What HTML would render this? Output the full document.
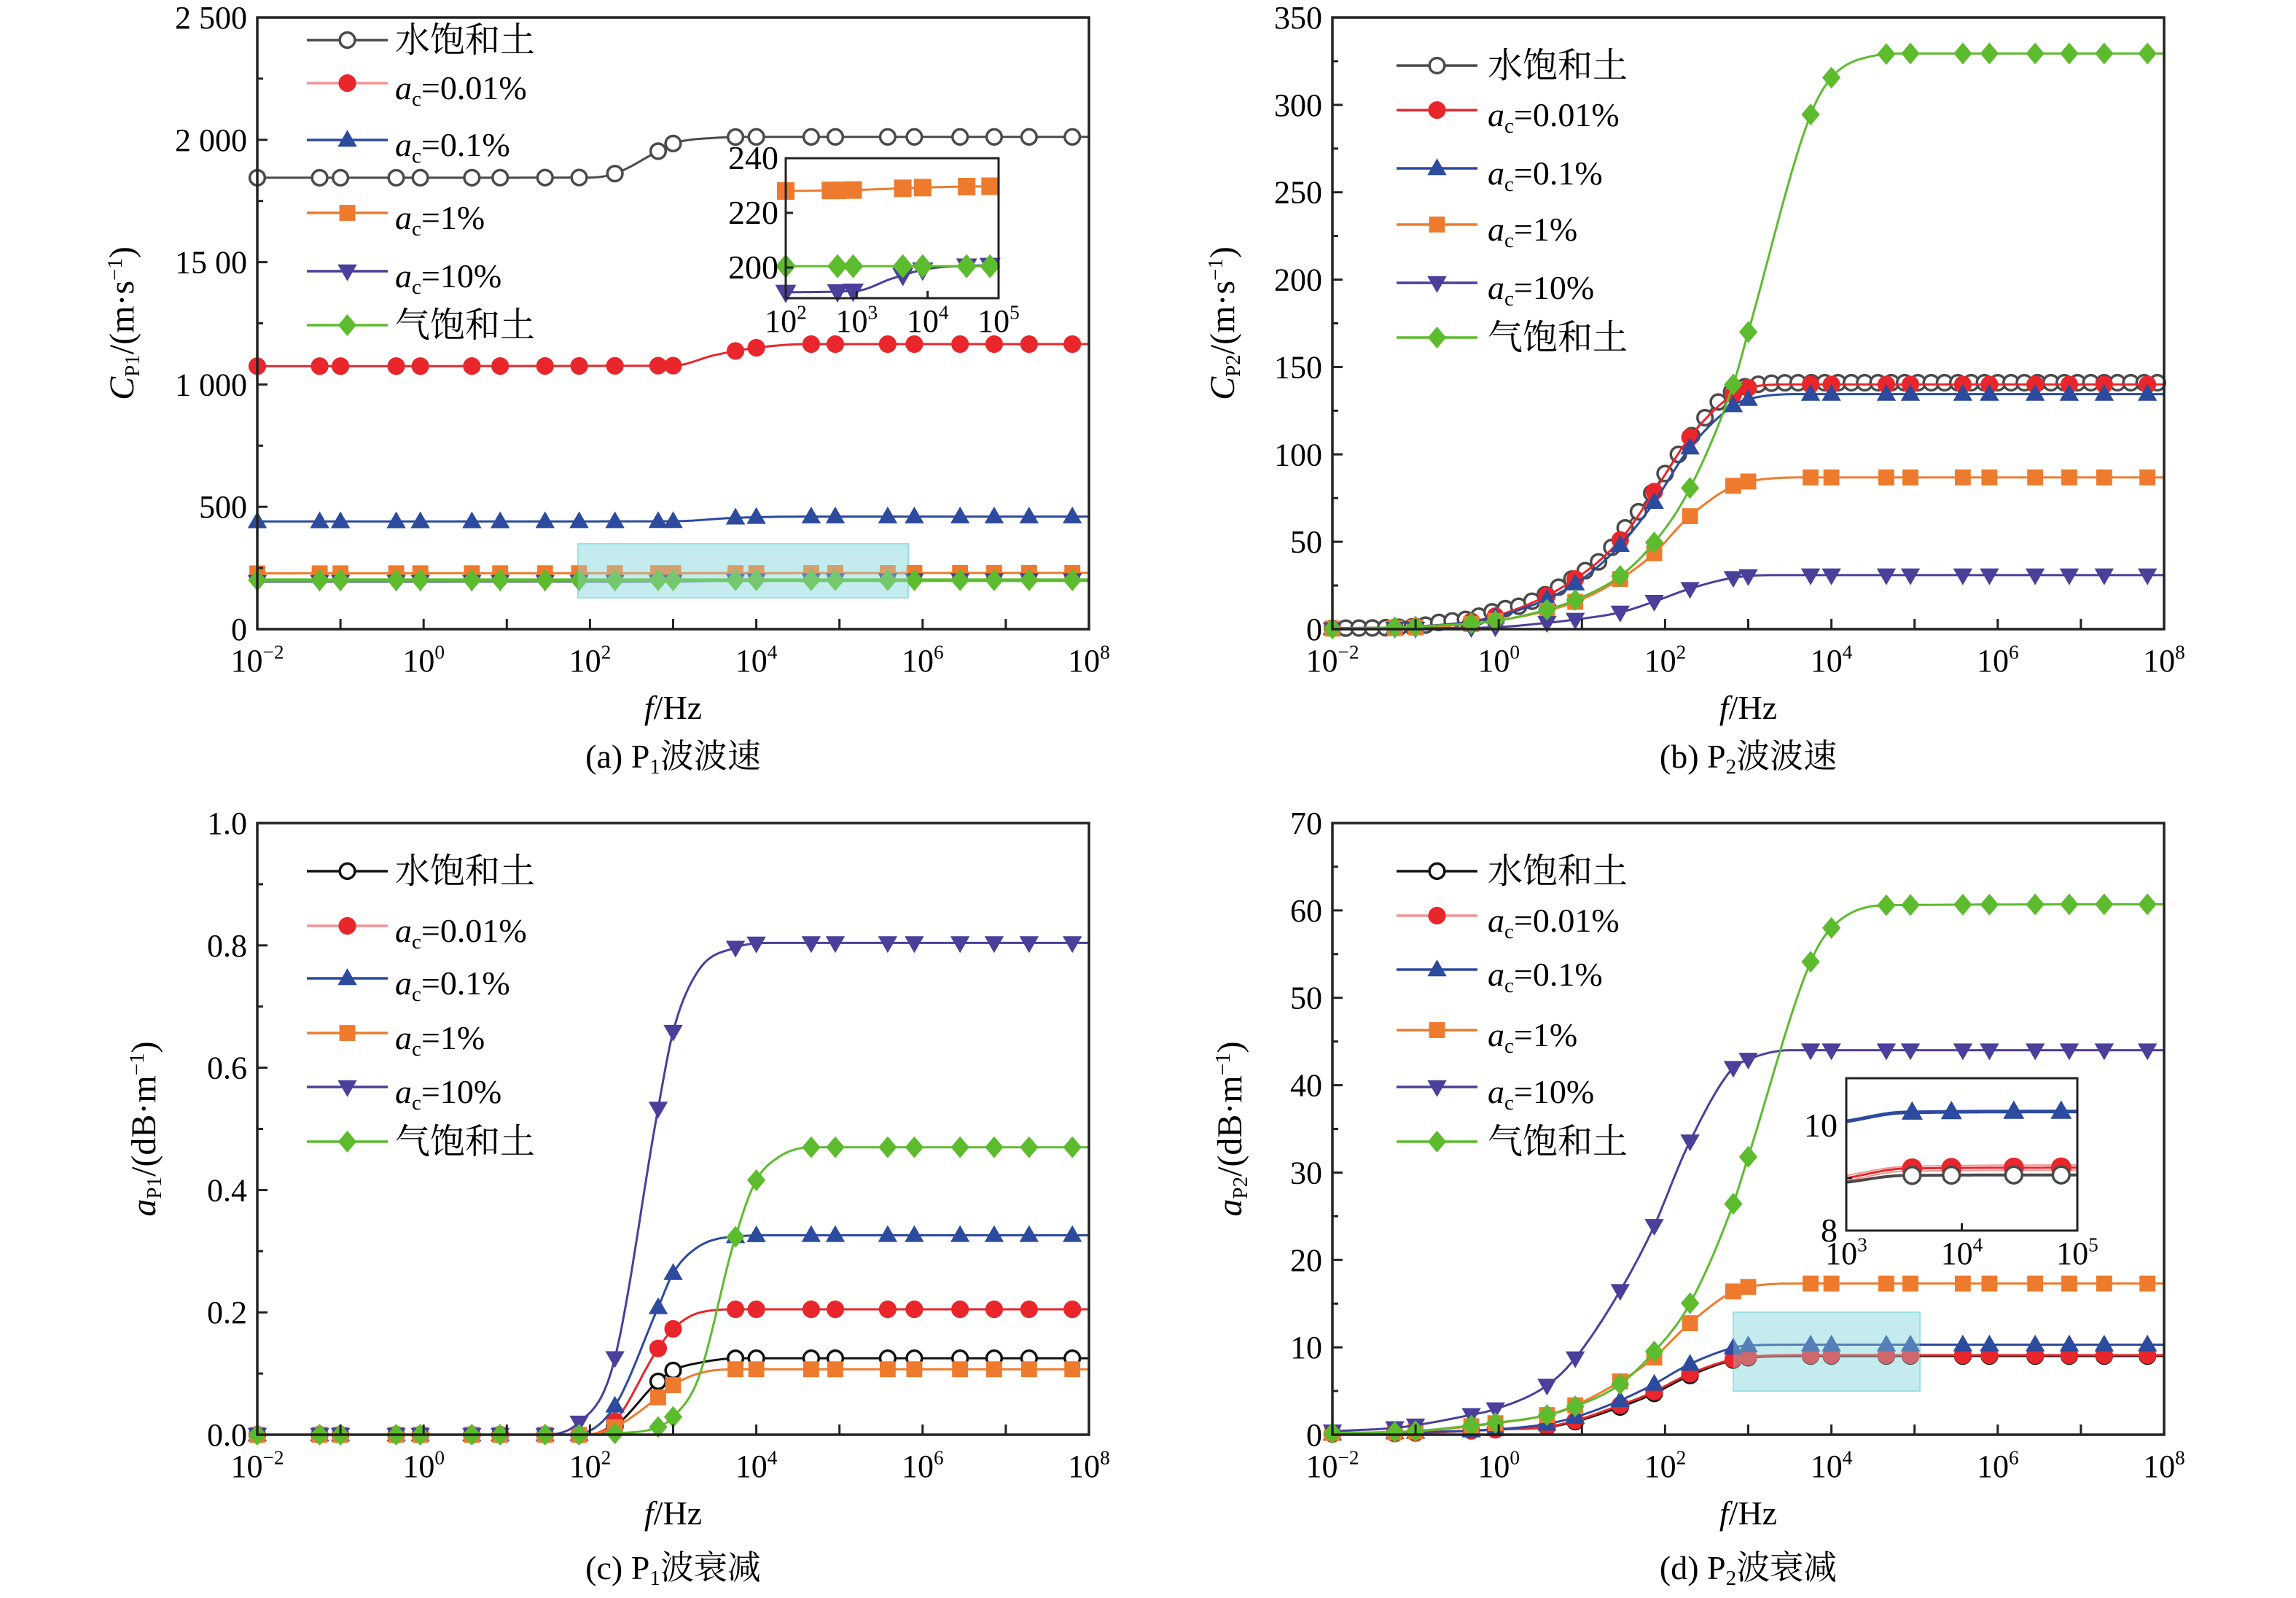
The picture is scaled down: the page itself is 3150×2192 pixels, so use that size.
<!DOCTYPE html>
<html><head><meta charset="utf-8">
<style>
html,body{margin:0;padding:0;background:#fff;}
svg{display:block;font-family:"Liberation Serif","Noto Serif CJK SC",serif;}
</style></head>
<body>
<svg id="s" xmlns="http://www.w3.org/2000/svg" width="3150" height="2192" viewBox="0 0 3150 2192"></svg>
<script>
const S=document.getElementById('s');
let out='';
const MS=1.15;
const X=[-2,-1.25,-1,-0.33,-0.04,0.58,0.92,1.46,1.87,2.3,2.82,3.0,3.75,4.0,4.66,4.95,5.58,5.9,6.45,6.86,7.28,7.8];
const C={w1:'#4a4a4a',w2:'#111111',r:'#e8262b',rl:'#f39494',b:'#2c4a9e',o:'#ee7b2d',p:'#4a3f9a',g:'#5dbb2e'};
function mono(pts){
  const n=pts.length,xs=pts.map(p=>p[0]),ys=pts.map(p=>p[1]);
  const d=[],m=[];
  for(let i=0;i<n-1;i++)d.push((ys[i+1]-ys[i])/(xs[i+1]-xs[i]));
  m[0]=d[0];m[n-1]=d[n-2];
  for(let i=1;i<n-1;i++){m[i]=(d[i-1]*d[i]<=0)?0:(d[i-1]+d[i])/2;}
  for(let i=0;i<n-1;i++){ if(d[i]==0){m[i]=0;m[i+1]=0;continue;}
    const a=m[i]/d[i],b=m[i+1]/d[i],h=a*a+b*b; if(h>9){const t=3/Math.sqrt(h);m[i]=t*a*d[i];m[i+1]=t*b*d[i];}}
  return function(x){
    if(x<=xs[0])return ys[0]; if(x>=xs[n-1])return ys[n-1];
    let i=0;while(x>xs[i+1])i++;
    const h=xs[i+1]-xs[i],t=(x-xs[i])/h,t2=t*t,t3=t2*t;
    return (2*t3-3*t2+1)*ys[i]+(t3-2*t2+t)*h*m[i]+(-2*t3+3*t2)*ys[i+1]+(t3-t2)*h*m[i+1];
  };
}
function marker(type,x,y,col,s){
  s=(s||1)*MS;
  if(type=='oc')return `<circle cx="${x}" cy="${y}" r="${9*s}" fill="#fff" stroke="${col}" stroke-width="3.5"/>`;
  if(type=='fc')return `<circle cx="${x}" cy="${y}" r="${10.5*s}" fill="${col}"/>`;
  if(type=='tu')return `<polygon points="${x},${y-12*s} ${x-11.5*s},${y+8*s} ${x+11.5*s},${y+8*s}" fill="${col}"/>`;
  if(type=='td')return `<polygon points="${x},${y+12*s} ${x-11.5*s},${y-8*s} ${x+11.5*s},${y-8*s}" fill="${col}"/>`;
  if(type=='sq')return `<rect x="${x-9.5*s}" y="${y-9.5*s}" width="${19*s}" height="${19*s}" fill="${col}"/>`;
  if(type=='di')return `<polygon points="${x},${y-13*s} ${x+11*s},${y} ${x},${y+13*s} ${x-11*s},${y}" fill="${col}"/>`;
}
function sup10(x,y,e,fs){return `<text x="${x}" y="${y}" font-size="${fs}" text-anchor="middle">10<tspan font-size="${fs*0.62}" dy="${-fs*0.4}">${e}</tspan></text>`;}
function acLabel(x,y,v){return `<text x="${x}" y="${y}" font-size="46"><tspan font-style="italic">a</tspan><tspan font-size="29" dy="9">c</tspan><tspan dy="-9">=${v}</tspan></text>`;}
function panel(P){
  const L=P.L,T=P.T,W=1141,H=839,B=T+H,R=L+W;
  const fx=x=>L+(x+2)/10*W, fy=v=>B-(v-P.y0)/(P.y1-P.y0)*H;
  let s='';
  if(P.rect){const r=P.rect;s+=`<rect x="${r[0]}" y="${r[1]}" width="${r[2]-r[0]}" height="${r[3]-r[1]}" fill="rgba(140,215,220,0.35)" stroke="#9adfe3" stroke-width="2"/>`;}
  P.series.forEach(se=>{
    const f=mono(se.pts);let d='';
    for(let x=-2;x<=8.0001;x+=0.02){d+=(d?'L':'M')+fx(x).toFixed(1)+','+fy(f(x)).toFixed(1);}
    s+=`<path d="${d}" fill="none" stroke="${se.col}" stroke-width="${se.lw||3}"/>`;
    (se.mx||X).forEach(x=>{s+=marker(se.m,fx(x),fy(f(x)),se.col);});
  });
  if(P.rect){const r=P.rect;s+=`<rect x="${r[0]}" y="${r[1]}" width="${r[2]-r[0]}" height="${r[3]-r[1]}" fill="rgba(160,225,228,0.35)" stroke="none"/>`;}
  s+=`<rect x="${L}" y="${T}" width="${W}" height="${H}" fill="none" stroke="#222" stroke-width="3.5"/>`;
  for(let e=-2;e<=8;e++){const x=fx(e);s+=`<line x1="${x}" y1="${B}" x2="${x}" y2="${B-14}" stroke="#222" stroke-width="3"/>`;
    if(e%2==0)s+=sup10(x,B+58,e<0?'−'+(-e):e,44);}
  for(let v=P.y0;v<=P.y1+1e-9;v+=P.minor){const y=fy(v);const maj=Math.abs(Math.round((v-P.y0)/P.major)*P.major-(v-P.y0))<1e-6;
    s+=`<line x1="${L}" y1="${y}" x2="${L+(maj?14:8)}" y2="${y}" stroke="#222" stroke-width="3"/>`;}
  P.ylabels.forEach((t,i)=>{const v=P.y0+i*P.major;s+=`<text x="${L-14}" y="${fy(v)+15}" font-size="44" text-anchor="end">${t}</text>`;});
  const lg=P.leg;
  const names=['水饱和土','0.01%','0.1%','1%','10%','气饱和土'];
  P.legOrder.forEach((se,i)=>{
    const y=T+lg.rows[i];
    s+=`<line x1="${L+lg.x0}" y1="${y}" x2="${L+lg.x1}" y2="${y}" stroke="${se.legCol||se.col}" stroke-width="3.5"/>`;
    s+=marker(se.m,L+(lg.x0+lg.x1)/2,y,se.col);
    if(i==0||i==5)s+=`<text x="${L+lg.tx}" y="${y+16}" font-size="48">${names[i]}</text>`;
    else s+=acLabel(L+lg.tx,y+22,names[i]);
  });
  const mx=(L+R)/2;
  s+=`<text x="${mx}" y="${B+123}" font-size="46" text-anchor="middle"><tspan font-style="italic">f</tspan>/Hz</text>`;
  s+=`<text x="${mx}" y="${B+P.capDy}" font-size="46" text-anchor="middle">${P.cap}</text>`;
  s+=`<text transform="translate(${L-P.ytx},${(T+B)/2}) rotate(-90)" font-size="48" text-anchor="middle">${P.ytitle}</text>`;
  if(P.inset)s+=P.inset(P);
  return s;
}
const legA={rows:[31,90,168,268,348,422],x0:68,x1:179,tx:189};
const legB={rows:[66,127,207,284,364,439],x0:88,x1:199,tx:213};
const legC={rows:[66,141,213,288,362,437],x0:68,x1:179,tx:189};
const legD={rows:[66,127,201,284,362,437],x0:88,x1:199,tx:213};

const sa=[
 {col:C.w1,m:'oc',pts:[[-2,1845],[2.0,1846],[2.3,1862],[2.8,1950],[3.0,1985],[3.5,2008],[4,2012],[8,2012]]},
 {col:C.r,legCol:C.rl,m:'fc',pts:[[-2,1075],[3.0,1077],[3.5,1120],[4.0,1150],[4.6,1165],[8,1165]]},
 {col:C.b,m:'tu',pts:[[-2,440],[3,441],[3.75,455],[4.6,460],[8,460]]},
 {col:C.o,m:'sq',pts:[[-2,228],[8,230]]},
 {col:C.p,m:'td',pts:[[-2,194],[3,195],[4,200],[8,201]]},
 {col:C.g,m:'di',lw:5,pts:[[-2,200],[8,200]]}
];
function insetA(){
  const L=1078,R=1370,T=217,B=409;const fx=x=>L+(x-2)/3*(R-L),fy=v=>B-(v-188.8)/(240-188.8)*(B-T);
  let s=`<rect x="${L}" y="${T}" width="${R-L}" height="${B-T}" fill="#fff" stroke="none"/>`;
  const ser=[{col:C.o,m:'sq',pts:[[2,228],[3,228.4],[4,229.3],[5,229.8]]},
    {col:C.p,m:'td',pts:[[2,191],[3,191.5],[3.5,196],[4,199.5],[5,201]]},
    {col:C.g,m:'di',pts:[[2,200.5],[5,200.5]]}];
  const mxs=[2.0,2.73,2.95,3.65,3.93,4.55,4.88];
  ser.forEach(se=>{const f=mono(se.pts);let d='';for(let x=2;x<=5.0001;x+=0.02)d+=(d?'L':'M')+fx(x).toFixed(1)+','+fy(f(x)).toFixed(1);
    s+=`<path d="${d}" fill="none" stroke="${se.col}" stroke-width="3"/>`;
    (se.m=='sq'?[2.0,2.63,2.73,2.95,3.65,3.93,4.55,4.88]:mxs).forEach(x=>s+=marker(se.m,fx(x),fy(f(x)),se.col,1.1));});
  s+=`<rect x="${L}" y="${T}" width="${R-L}" height="${B-T}" fill="none" stroke="#222" stroke-width="3"/>`;
  [240,220,200].forEach(v=>{s+=`<line x1="${L}" y1="${fy(v)}" x2="${L+10}" y2="${fy(v)}" stroke="#222" stroke-width="3"/><text x="${L-10}" y="${fy(v)+15}" font-size="46" text-anchor="end">${v}</text>`;});
  [2,3,4,5].forEach(e=>{s+=`<line x1="${fx(e)}" y1="${B}" x2="${fx(e)}" y2="${B-10}" stroke="#222" stroke-width="3"/>`+sup10(fx(e),B+46,e,44);});
  return s;
}
out+=panel({L:353,T:24,y0:0,y1:2500,major:500,minor:250,ylabels:['0','500','1 000','15 00','2 000','2 500'],
  series:sa,legOrder:sa,leg:legA,rect:[793,746,1246,820],
  cap:'(a) P<tspan font-size="29" dy="8">1</tspan><tspan dy="-8">波波速</tspan>',capDy:190,ytx:170,
  ytitle:'<tspan font-style="italic">C</tspan><tspan font-size="29" dy="8">P1</tspan><tspan dy="-8">/(m·s</tspan><tspan font-size="29" dy="-16">−1</tspan><tspan dy="16">)</tspan>',inset:insetA});

const wx=[];for(let x=-2;x<=7.95;x+=0.16)wx.push(x);
const sb=[
 {col:C.w1,m:'oc',mx:wx,pts:[[-2,0.5],[-1,1.5],[-0.7,4],[-0.35,6],[0,11],[0.3,14],[0.99,32],[1.28,42],[1.53,58.6],[1.71,69],[1.97,87],[2.48,121],[2.62,129],[2.77,135],[3.1,140],[3.6,141],[8,141]]},
 {col:C.r,m:'fc',pts:[[-2,0.5],[-1,1.5],[0,8],[0.92,28.7],[1.46,51],[1.86,78],[2.27,108],[2.7,130],[2.99,138],[3.5,140],[8,140]]},
 {col:C.b,m:'tu',pts:[[-2,0.5],[-1,1.5],[0,7.5],[0.92,26],[1.46,48],[1.86,72],[2.27,102],[2.82,128],[3.0,131.6],[3.6,134.5],[8,134.5]]},
 {col:C.o,m:'sq',pts:[[-2,0.3],[-1,1],[0,5],[0.92,15.6],[1.46,28.7],[1.86,43],[2.27,63.4],[2.82,82],[3.0,84.5],[3.6,86.8],[8,86.8]]},
 {col:C.p,m:'td',pts:[[-2,0],[-1,0.4],[0,1.2],[0.58,3.6],[0.92,5.5],[1.46,9.6],[1.86,15.6],[2.27,22.7],[2.82,29.4],[3.3,30.9],[8,30.9]]},
 {col:C.g,m:'di',pts:[[-2,0.3],[-1,1.5],[0,5],[0.58,11.2],[0.92,16.7],[1.46,30.4],[1.86,49],[2.27,78],[2.82,140],[3.0,170],[3.73,292],[3.99,315],[4.5,328],[4.9,329.4],[8,329.4]]}
];
out+=panel({L:1828,T:24,y0:0,y1:350,major:50,minor:25,ylabels:['0','50','100','150','200','250','300','350'],
  series:sb,legOrder:sb,leg:legB,cap:'(b) P<tspan font-size="29" dy="8">2</tspan><tspan dy="-8">波波速</tspan>',capDy:190,ytx:135,
  ytitle:'<tspan font-style="italic">C</tspan><tspan font-size="29" dy="8">P2</tspan><tspan dy="-8">/(m·s</tspan><tspan font-size="29" dy="-16">−1</tspan><tspan dy="16">)</tspan>'});

const sc=[
 {col:C.w2,m:'oc',pts:[[-2,0],[1.9,0],[2.28,0.012],[2.81,0.086],[3.0,0.105],[3.33,0.118],[3.8,0.125],[8,0.125]]},
 {col:C.r,legCol:C.rl,m:'fc',pts:[[-2,0],[1.9,0],[2.28,0.019],[2.81,0.139],[3.0,0.173],[3.33,0.2],[3.8,0.205],[8,0.205]]},
 {col:C.b,m:'tu',pts:[[-2,0],[1.8,0],[2.28,0.043],[2.81,0.205],[3.0,0.264],[3.3,0.307],[3.74,0.324],[4.2,0.326],[8,0.326]]},
 {col:C.o,m:'sq',pts:[[-2,0],[1.9,0],[2.28,0.011],[2.81,0.06],[3.0,0.081],[3.33,0.101],[3.8,0.107],[8,0.107]]},
 {col:C.p,m:'td',pts:[[-2,0],[1.4,0],[1.86,0.019],[2.28,0.115],[2.81,0.526],[3.0,0.659],[3.3,0.758],[3.74,0.796],[4.2,0.804],[8,0.804]]},
 {col:C.g,m:'di',pts:[[-2,0],[2.0,0],[2.28,0.002],[2.81,0.012],[3.0,0.029],[3.3,0.091],[3.74,0.319],[3.98,0.411],[4.27,0.454],[4.7,0.47],[8,0.47]]}
];
out+=panel({L:353,T:1129,y0:0,y1:1.0,major:0.2,minor:0.1,ylabels:['0.0','0.2','0.4','0.6','0.8','1.0'],
  series:sc,legOrder:sc,leg:legC,cap:'(c) P<tspan font-size="29" dy="8">1</tspan><tspan dy="-8">波衰减</tspan>',capDy:198,ytx:140,
  ytitle:'<tspan font-style="italic">a</tspan><tspan font-size="29" dy="8">P1</tspan><tspan dy="-8">/(dB·m</tspan><tspan font-size="29" dy="-16">−1</tspan><tspan dy="16">)</tspan>'});

const sd=[
 {col:C.w2,m:'oc',pts:[[-2,0.1],[-1,0.2],[0,0.6],[0.56,0.85],[0.88,1.4],[1.38,2.9],[1.84,4.6],[2.28,6.7],[2.8,8.5],[2.99,8.8],[3.6,9.0],[8,9.0]]},
 {col:C.r,legCol:C.rl,m:'fc',pts:[[-2,0.1],[-1,0.2],[0,0.6],[0.56,0.9],[0.88,1.5],[1.38,3.1],[1.84,4.8],[2.28,6.9],[2.8,8.6],[2.99,8.9],[3.6,9.1],[8,9.1]]},
 {col:C.b,m:'tu',pts:[[-2,0.1],[-1,0.3],[-0.05,0.6],[0.56,1.2],[0.88,1.9],[1.38,3.6],[1.84,5.65],[2.28,8.0],[2.8,9.9],[2.99,10.2],[3.6,10.3],[8,10.3]]},
 {col:C.o,m:'sq',pts:[[-2,0.2],[-1,0.4],[-0.05,1.3],[0.56,2.2],[0.88,3.2],[1.38,5.65],[1.84,8.6],[2.28,12.6],[2.8,16.3],[2.99,16.9],[3.6,17.3],[8,17.3]]},
 {col:C.p,m:'td',pts:[[-2,0.4],[-1.27,0.76],[-1.02,1.05],[-0.37,2.2],[-0.05,2.9],[0.56,5.5],[0.88,8.3],[1.38,15.2],[1.84,23.3],[2.28,33.2],[2.8,41.8],[2.99,42.9],[3.5,44],[8,44]]},
 {col:C.g,m:'di',pts:[[-2,0.2],[-1.27,0.3],[-1.02,0.4],[-0.37,1.0],[-0.05,1.34],[0.56,2.2],[0.88,3.1],[1.44,5.65],[1.84,9.2],[2.28,14.7],[2.8,25.9],[2.99,31.5],[3.74,53.9],[4.0,58],[4.66,60.6],[8,60.7]]}
];
function insetD(){
  const L=2533,R=2850,T=1479,B=1688;const fx=x=>L+(x-3)/2*(R-L),fy=v=>B-(v-8)*72;
  let s=`<rect x="${L}" y="${T}" width="${R-L}" height="${B-T}" fill="#fff" stroke="none"/>`;
  const mxs=[3.57,3.91,4.45,4.86];
  [[C.rl,'',[[3,9.05],[3.5,9.22],[5,9.25]],2],[C.rl,'',[[3,9.0],[3.5,9.18],[5,9.2]],2],[C.rl,'',[[3,8.95],[3.5,9.13],[5,9.15]],2],
   [C.b,'tu',[[3,10.08],[3.5,10.25],[5,10.27]],5],[C.r,'fc',[[3,9.0],[3.5,9.18],[5,9.2]],3],[C.w1,'oc',[[3,8.92],[3.5,9.05],[5,9.06]],4]].forEach(a=>{
    const f=mono(a[2]);let d='';for(let x=3;x<=5.0001;x+=0.02)d+=(d?'L':'M')+fx(x).toFixed(1)+','+fy(f(x)).toFixed(1);
    s+=`<path d="${d}" fill="none" stroke="${a[0]}" stroke-width="${a[3]}"/>`;
    if(a[1])mxs.forEach(x=>s+=marker(a[1],fx(x),fy(f(x)),a[0],a[1]=='fc'?1.15:1.1));});
  s+=`<rect x="${L}" y="${T}" width="${R-L}" height="${B-T}" fill="none" stroke="#222" stroke-width="3"/>`;
  [[10,'10'],[8,'8']].forEach(v=>{s+=`<text x="${L-12}" y="${fy(v[0])+15}" font-size="46" text-anchor="end">${v[1]}</text>`;});
  s+=`<line x1="${L}" y1="${fy(9)}" x2="${L+8}" y2="${fy(9)}" stroke="#222" stroke-width="3"/>`;
  [3,4,5].forEach(e=>{s+=`<line x1="${fx(e)}" y1="${B}" x2="${fx(e)}" y2="${B-10}" stroke="#222" stroke-width="3"/>`+sup10(fx(e),B+46,e,44);});
  return s;
}
out+=panel({L:1828,T:1129,y0:0,y1:70,major:10,minor:5,ylabels:['0','10','20','30','40','50','60','70'],
  series:sd,legOrder:sd,leg:legD,rect:[2378,1800,2634,1908],cap:'(d) P<tspan font-size="29" dy="8">2</tspan><tspan dy="-8">波衰减</tspan>',capDy:198,ytx:125,
  ytitle:'<tspan font-style="italic">a</tspan><tspan font-size="29" dy="8">P2</tspan><tspan dy="-8">/(dB·m</tspan><tspan font-size="29" dy="-16">−1</tspan><tspan dy="16">)</tspan>',inset:insetD});
S.innerHTML=out;
</script>
</body></html>
